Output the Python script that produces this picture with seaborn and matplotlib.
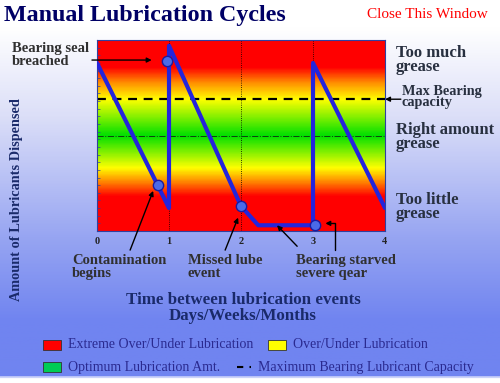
import numpy as np
import pandas as pd
import matplotlib
matplotlib.use('Agg')
import matplotlib.pyplot as plt
import seaborn as sns
from matplotlib.colors import LinearSegmentedColormap
from matplotlib.patches import Rectangle
from matplotlib.lines import Line2D

sns.set_style('white')
plt.rcParams['font.family'] = ['Liberation Serif', 'DejaVu Serif']

# Data (y in % of bearing capacity, x in lube intervals)
cycle_x = [0, 1, 1, 2, 2.24, 3, 3, 4]
cycle_y = [88, 12, 97, 13, 3, 3, 88, 12]
event_x = [0.85, 0.97, 2.0, 3.03]
event_y = [24, 89, 13, 3]
max_capacity = 69
right_amount = 50
lube_events = [1, 2, 3]
x_ticks = [0, 1, 2, 3, 4]

W, H = 500, 383
fig = plt.figure(figsize=(W / 100, H / 100), dpi=100)

# background gradient (white at top -> blue at bottom)
bg = fig.add_axes([0, 0, 1, 1])
bg_cmap = LinearSegmentedColormap.from_list(
    'bg', [(0, '#ffffff'), (0.07, '#ffffff'), (0.30, '#dcdff8'),
           (0.62, '#97a5f2'), (0.84, '#7084f0'), (0.985, '#7084f0'), (0.99, '#ffffff'), (1, '#ffffff')])
bg.imshow(np.linspace(0, 1, 400).reshape(-1, 1), cmap=bg_cmap, aspect='auto',
          extent=[0, 1, 1, 0])
bg.set_xlim(0, 1)
bg.set_ylim(1, 0)
bg.axis('off')

# main plot area
ax = fig.add_axes([97 / W, 1 - 231 / H, 288 / W, 191 / H])
zone_cmap = LinearSegmentedColormap.from_list(
    'zones', [(0, '#ff0000'), (0.18, '#ff0000'), (0.26, '#ff8c00'), (0.33, '#ffff00'),
              (0.50, '#00e000'), (0.69, '#ffff00'), (0.78, '#ff8c00'), (0.86, '#ff0000'),
              (1, '#ff0000')])
ax.imshow(np.linspace(0, 1, 300).reshape(-1, 1), cmap=zone_cmap, aspect='auto',
          origin='lower', extent=[0, 4, 0, 100], zorder=0)

for xv in lube_events:
    ax.axvline(xv, color='black', lw=0.6, ls=':', zorder=1)
ax.axhline(max_capacity, color='black', lw=1.6, ls=(0, (4, 3)), zorder=1)
ax.axhline(right_amount, color='#104010', lw=0.7, ls='-.', zorder=1)

df = pd.DataFrame({'x': cycle_x, 'y': cycle_y})
sns.lineplot(data=df, x='x', y='y', sort=False, estimator=None, color='#2424dc',
             lw=3, ax=ax, zorder=3)
ev = pd.DataFrame({'x': event_x, 'y': event_y})
sns.scatterplot(data=ev, x='x', y='y', s=55, color='#4a6ae8', edgecolor='#1a1aa0',
                linewidth=1, ax=ax, zorder=4)

ax.set_xlim(0, 4)
ax.set_ylim(0, 100)
ax.set_xticks(x_ticks)
ax.set_xticklabels([str(t) for t in x_ticks], fontsize=7.5, fontweight='bold', color='#222222')
# small unlabeled ruler ticks along the left edge
ax.set_yticks(np.arange(0, 101, 4))
ax.set_yticklabels([])
ax.tick_params(axis='y', left=True, direction='in', length=2, width=0.5, color='#3040a0')
ax.tick_params(axis='x', length=2, pad=2)
ax.set_xlabel('')
ax.set_ylabel('')
for s in ax.spines.values():
    s.set_color('#3040a0')
    s.set_linewidth(0.8)


def fp(x, y):
    # top-left pixel -> figure fraction
    return (x / W, 1 - y / H)


note = dict(fontsize=10.5, fontweight='bold', color='#303030', linespacing=0.95)
arrow = dict(arrowstyle='-|>', color='black', lw=1, mutation_scale=7, shrinkA=0, shrinkB=0)

ax.annotate('Bearing seal\nbreached', xy=(0.76, 89.5), xytext=fp(12, 55),
            textcoords='figure fraction', va='center', ha='left',
            annotation_clip=False, **note)
ax.annotate('', xy=(0.76, 89.5), xytext=(-0.07, 89.5), arrowprops=arrow,
            annotation_clip=False)

ax.annotate('Contamination\nbegins', xy=(0.78, 21), xytext=fp(72, 267),
            textcoords='figure fraction', va='center', ha='left',
            annotation_clip=False, **note)
ax.annotate('', xy=(0.78, 21), xytext=(0.46, -10), arrowprops=arrow, annotation_clip=False)

ax.annotate('Missed lube\nevent', xy=(1.96, 7), xytext=fp(188, 267),
            textcoords='figure fraction', va='center', ha='left',
            annotation_clip=False, **note)
ax.annotate('', xy=(1.96, 7), xytext=(1.78, -10), arrowprops=arrow, annotation_clip=False)

ax.annotate('Bearing starved\nsevere qear', xy=(2.5, 3), xytext=fp(296, 267),
            textcoords='figure fraction', va='center', ha='left',
            annotation_clip=False, **note)
ax.annotate('', xy=(2.5, 3), xytext=(2.78, -8), arrowprops=arrow, annotation_clip=False)
ax.annotate('', xy=(3.17, 4), xytext=(3.3, -10),
            arrowprops=dict(arrow, connectionstyle='angle,angleA=90,angleB=0,rad=0'),
            annotation_clip=False)

side = dict(fontsize=12, fontweight='bold', color='#283040', linespacing=0.9, va='center')
fig.text(*fp(396, 60), 'Too much\ngrease', **side)
fig.text(*fp(396, 137), 'Right amount\ngrease', **side)
fig.text(*fp(396, 207), 'Too little\ngrease', **side)
fig.text(*fp(402, 97), 'Max Bearing\ncapacity', fontsize=10.3, fontweight='bold',
         color='#283040', linespacing=0.75, va='center')
ax.annotate('', xy=(4.0, max_capacity), xytext=(4.22, max_capacity), arrowprops=arrow,
            annotation_clip=False)

# titles and axis labels
fig.text(*fp(4, 16), 'Manual Lubrication Cycles', fontsize=17.3, fontweight='bold',
         color='#000066', va='center')
fig.text(*fp(367, 15), 'Close This Window', fontsize=11, color='#ff0000', va='center')
fig.text(*fp(17, 200), 'Amount of Lubricants Dispensed', rotation=90, fontsize=10.3,
         fontweight='bold', color='#1a2a6a', ha='center', va='center')
fig.text(*fp(243, 308), 'Time between lubrication events\nDays/Weeks/Months', fontsize=12.2,
         fontweight='bold', color='#1a2a6a', ha='center', va='center', linespacing=0.95)

# legend, drawn by hand to keep the staggered columns
leg_txt = dict(fontsize=10, color='#2a2a90', va='center')
for (px, py, col, label) in [(43, 345, '#ff0000', 'Extreme Over/Under Lubrication'),
                             (268, 345, '#ffff00', 'Over/Under Lubrication'),
                             (43, 367, '#00cc55', 'Optimum Lubrication Amt.')]:
    fig.patches.append(Rectangle(fp(px, py + 5), 18 / W, 10 / H, transform=fig.transFigure,
                                 facecolor=col, edgecolor='#333333', lw=0.6))
    fig.text(*fp(px + 25, py), label, **leg_txt)
fig.lines.append(Line2D([237 / W, 251 / W], [1 - 367 / H] * 2, transform=fig.transFigure,
                        color='black', lw=1.5, ls=(0, (3, 3))))
fig.text(*fp(258, 367), 'Maximum Bearing Lubricant Capacity', **leg_txt)

fig.savefig('out.png', dpi=100)
